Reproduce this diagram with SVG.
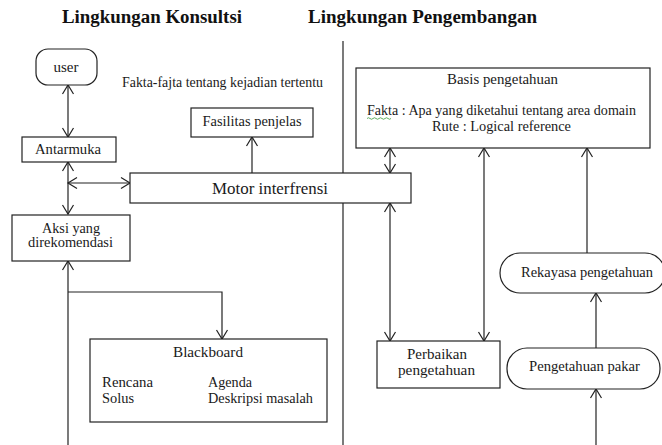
<svg xmlns="http://www.w3.org/2000/svg" width="662" height="445" viewBox="0 0 662 445">
<style>
.box{fill:#fff;stroke:#222;stroke-width:1.2}
.t{font-family:"Liberation Serif","Times New Roman",serif;font-size:14px;fill:#1a1a1a}
.c{text-anchor:middle}
.title{font-family:"Liberation Serif","Times New Roman",serif;font-size:18.5px;font-weight:bold;fill:#111}
.ln{fill:none;stroke:#222;stroke-width:1.2}
</style>
<defs>
<marker id="ah" markerUnits="userSpaceOnUse" markerWidth="20" markerHeight="20" viewBox="-10 -10 20 20" refX="0" refY="0" orient="auto-start-reverse">
<path d="M-9,-5.5 L0,0 L-9,5.5" fill="none" stroke="#222" stroke-width="1.2"/>
</marker>
</defs>
<rect width="662" height="445" fill="#fff"/>
<text class="title" x="62" y="23" textLength="180" lengthAdjust="spacingAndGlyphs">Lingkungan Konsultsi</text>
<text class="title" x="308" y="23" textLength="229" lengthAdjust="spacingAndGlyphs">Lingkungan Pengembangan</text>
<line class="ln" x1="343" y1="41" x2="343" y2="445"/>
<text class="t" x="122" y="87" textLength="201" lengthAdjust="spacingAndGlyphs">Fakta-fajta tentang kejadian tertentu</text>

<g id="connectors">
<line class="ln" x1="68" y1="85" x2="68" y2="137" marker-start="url(#ah)" marker-end="url(#ah)"/>
<line class="ln" x1="68" y1="162" x2="68" y2="214" marker-start="url(#ah)" marker-end="url(#ah)"/>
<line class="ln" x1="68" y1="183" x2="130" y2="183" marker-start="url(#ah)" marker-end="url(#ah)"/>
<line class="ln" x1="252" y1="173" x2="252" y2="137" marker-end="url(#ah)"/>
<line class="ln" x1="68" y1="445" x2="68" y2="261" marker-end="url(#ah)"/>
<path class="ln" d="M68,292 H222 V339" marker-end="url(#ah)"/>
<line class="ln" x1="390" y1="148" x2="390" y2="173" marker-start="url(#ah)" marker-end="url(#ah)"/>
<line class="ln" x1="390" y1="203" x2="390" y2="341" marker-start="url(#ah)" marker-end="url(#ah)"/>
<line class="ln" x1="484" y1="148" x2="484" y2="341" marker-start="url(#ah)" marker-end="url(#ah)"/>
<line class="ln" x1="587" y1="253" x2="587" y2="148" marker-end="url(#ah)"/>
<line class="ln" x1="596" y1="348" x2="596" y2="293" marker-end="url(#ah)"/>
<line class="ln" x1="596" y1="445" x2="596" y2="389" marker-end="url(#ah)"/>
</g>

<g id="user">
<rect class="box" x="36" y="49" width="61" height="36" rx="12"/>
<text class="t c" x="66" y="72" textLength="25" lengthAdjust="spacingAndGlyphs">user</text>
</g>
<g id="fasilitas">
<rect class="box" x="191" y="108" width="122" height="29"/>
<text class="t c" x="252" y="126" textLength="99" lengthAdjust="spacingAndGlyphs">Fasilitas penjelas</text>
</g>
<g id="antarmuka">
<rect class="box" x="22" y="137" width="94" height="25"/>
<text class="t c" x="68" y="154" textLength="66" lengthAdjust="spacingAndGlyphs">Antarmuka</text>
</g>
<g id="motor">
<rect class="box" x="130" y="173" width="281" height="30"/>
<text class="t c" x="270" y="194" style="font-size:17px" textLength="116" lengthAdjust="spacingAndGlyphs">Motor interfrensi</text>
</g>
<g id="aksi">
<rect class="box" x="12" y="215" width="118" height="46"/>
<text class="t c" x="71" y="233" textLength="58" lengthAdjust="spacingAndGlyphs">Aksi yang</text>
<text class="t c" x="70.5" y="247" textLength="85" lengthAdjust="spacingAndGlyphs">direkomendasi</text>
</g>
<g id="blackboard">
<rect class="box" x="90" y="339" width="237" height="83"/>
<text class="t c" x="208" y="357" textLength="70" lengthAdjust="spacingAndGlyphs">Blackboard</text>
<text class="t" x="102" y="387" textLength="51" lengthAdjust="spacingAndGlyphs">Rencana</text>
<text class="t" x="102" y="403" textLength="32" lengthAdjust="spacingAndGlyphs">Solus</text>
<text class="t" x="208" y="387" textLength="44" lengthAdjust="spacingAndGlyphs">Agenda</text>
<text class="t" x="208" y="403" textLength="105" lengthAdjust="spacingAndGlyphs">Deskripsi masalah</text>
</g>
<g id="basis">
<rect class="box" x="356" y="68" width="294" height="80"/>
<text class="t c" x="502.5" y="84" textLength="111" lengthAdjust="spacingAndGlyphs">Basis pengetahuan</text>
<text class="t c" x="501.5" y="115" textLength="269" lengthAdjust="spacingAndGlyphs">Fakta : Apa yang diketahui tentang area domain</text>
<path d="M367,118.5 q1.5,-1.5 3,0 t3,0 t3,0 t3,0 t3,0 t3,0 t3,0 t3,0" fill="none" stroke="#3a9a3a" stroke-width="0.8"/>
<text class="t c" x="501.5" y="131" textLength="139" lengthAdjust="spacingAndGlyphs">Rute : Logical reference</text>
</g>
<g id="perbaikan">
<rect class="box" x="377" y="341" width="123" height="47"/>
<text class="t c" x="437" y="359" textLength="60" lengthAdjust="spacingAndGlyphs">Perbaikan</text>
<text class="t c" x="436.5" y="375" textLength="77" lengthAdjust="spacingAndGlyphs">pengetahuan</text>
</g>
<g id="rekayasa">
<rect class="box" x="500" y="253" width="165" height="40" rx="20"/>
<text class="t c" x="587" y="277" textLength="132" lengthAdjust="spacingAndGlyphs">Rekayasa pengetahuan</text>
</g>
<g id="pakar">
<rect class="box" x="507" y="348" width="153" height="41" rx="20"/>
<text class="t c" x="584.5" y="371" textLength="111" lengthAdjust="spacingAndGlyphs">Pengetahuan pakar</text>
</g>
</svg>
